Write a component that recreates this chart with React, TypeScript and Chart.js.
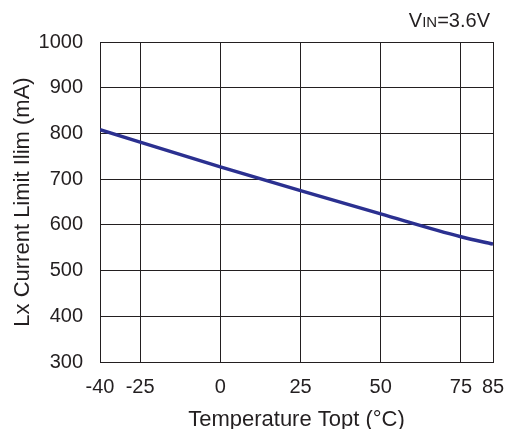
import React, { useEffect, useRef } from "react";
import { Chart, registerables, LinearScale } from "chart.js";

Chart.register(...registerables);

// ---- data ----
const temperatures = [-40, -25, 0, 25, 50, 75, 85];
const currentLimit = [808, 781, 727, 675, 624, 574, 558];
const xTicks = [-40, -25, 0, 25, 50, 75, 85];
const yMin = 300;
const yMax = 1000;
const yStep = 100;

// The original axis compresses the -40..-25 segment.
const BREAK = -25;
const COMPRESS = 12.5 / 15;
const warp = (v: number) => (v < BREAK ? BREAK + (v - BREAK) * COMPRESS : v);
const unwarp = (u: number) => (u < BREAK ? BREAK + (u - BREAK) / COMPRESS : u);

class WarpScale extends LinearScale {
  static id = "warpLinear";
  static defaults = LinearScale.defaults;
  getPixelForValue(value: any) {
    if (value === null || value === undefined || isNaN(value)) return NaN;
    const a = warp(this.min);
    const b = warp(this.max);
    return this.getPixelForDecimal((warp(value) - a) / (b - a));
  }
  getValueForPixel(pixel: number) {
    const a = warp(this.min);
    const b = warp(this.max);
    return unwarp(a + this.getDecimalForPixel(pixel) * (b - a));
  }
}
Chart.register(WarpScale as any);

const FONT = "'Liberation Sans', Arial, sans-serif";
const INK = "#231f20";

const vinPlugin = {
  id: "vinLabel",
  afterDraw(chart: any) {
    const ctx = chart.ctx;
    ctx.save();
    ctx.fillStyle = INK;
    ctx.textBaseline = "alphabetic";
    ctx.textAlign = "left";
    const big = `20px ${FONT}`;
    const small = `15px ${FONT}`;
    const parts: [string, string][] = [["V", big], ["IN", small], ["=3.6V", big]];
    let total = 0;
    for (const [t, f] of parts) {
      ctx.font = f;
      total += ctx.measureText(t).width;
    }
    let x = 490 - total;
    const y = 27;
    for (const [t, f] of parts) {
      ctx.font = f;
      ctx.fillText(t, x, y);
      x += ctx.measureText(t).width;
    }
    ctx.restore();
  },
};

export default function App() {
  const ref = useRef<HTMLCanvasElement | null>(null);
  useEffect(() => {
    document.body.style.margin = "0";
    const canvas = ref.current;
    if (!canvas) return;
    const chart = new Chart(canvas, {
      type: "line",
      data: {
        datasets: [
          {
            data: temperatures.map((t, i) => ({ x: t, y: currentLimit[i] })),
            borderColor: "#2b3090",
            borderWidth: 3.5,
            pointRadius: 0,
            cubicInterpolationMode: "monotone",
            fill: false,
          },
        ],
      },
      options: {
        animation: false,
        responsive: false,
        layout: { padding: { top: 42, right: 13, left: 0, bottom: 0 } },
        plugins: { legend: { display: false }, tooltip: { enabled: false }, title: { display: false } },
        scales: {
          x: {
            type: "warpLinear" as any,
            min: -40,
            max: 85,
            afterBuildTicks: (scale: any) => {
              scale.ticks = xTicks.map((v) => ({ value: v }));
            },
            afterFit: (scale: any) => {
              scale.height = 67;
              scale.paddingLeft = 0;
              scale.paddingRight = 0;
            },
            grid: { color: INK, lineWidth: 1, drawTicks: false },
            border: { color: INK, width: 1 },
            ticks: {
              color: INK,
              font: { family: FONT, size: 20 },
              padding: 13,
              maxRotation: 0,
              autoSkip: false,
              callback: (v: any) => String(v),
            },
            title: {
              display: true,
              text: "Temperature Topt (°C)",
              color: INK,
              font: { family: FONT, size: 22 },
              padding: { top: 0, bottom: -4 },
            },
          },
          y: {
            min: yMin,
            max: yMax,
            afterFit: (scale: any) => {
              scale.width = 100;
              scale.paddingTop = 0;
              scale.paddingBottom = 0;
            },
            grid: { color: INK, lineWidth: 1, drawTicks: false },
            border: { color: INK, width: 1 },
            ticks: {
              stepSize: yStep,
              color: INK,
              font: { family: FONT, size: 20 },
              padding: 17,
              callback: (v: any) => String(v),
            },
            title: {
              display: true,
              text: "Lx Current Limit Ilim (mA)",
              color: INK,
              font: { family: FONT, size: 22 },
              padding: { top: 10, bottom: 0 },
            },
          },
        },
      } as any,
      plugins: [vinPlugin],
    });
    return () => chart.destroy();
  }, []);
  return (
    <div style={{ width: 506, height: 429, background: "#fff" }}>
      <canvas ref={ref} width={506} height={429} />
    </div>
  );
}
